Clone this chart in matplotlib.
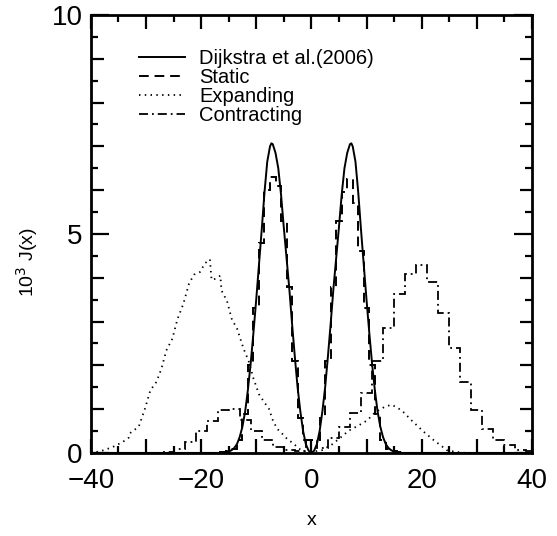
import numpy as np
import matplotlib
matplotlib.use('Agg')
from matplotlib import pyplot as plt
from matplotlib.ticker import MultipleLocator, FuncFormatter

plt.rcParams['font.family'] = ['Liberation Sans', 'DejaVu Sans']

# analytic curve (Dijkstra et al. 2006), x >= 0 side
x_sol = [0, 0.5, 1, 1.5, 2, 2.5, 3, 3.5, 4, 4.5, 5, 5.5, 6, 6.5, 7, 7.25, 7.5,
         8, 8.5, 9, 9.5, 10, 10.5, 11, 11.5, 12, 12.5, 13, 13.5, 14, 14.5, 15, 16, 40]
y_sol = [0, 0.05, 0.2, 0.5, 0.95, 1.5, 2.2, 2.95, 3.75, 4.45, 5.15, 5.9, 6.5, 6.85, 7.05, 7.07, 7.0,
         6.65, 5.95, 5.1, 4.3, 3.5, 2.75, 2.05, 1.45, 0.95, 0.6, 0.36, 0.2, 0.11, 0.06, 0.03, 0.0, 0.0]

# static slab, histogram with unit bins centred on integers
static_edges = np.arange(-16.5, 17.0, 1.0)
static_vals = [0.02, 0.05, 0.1, 0.3, 0.9, 2.0, 3.3, 4.8, 6.0, 6.3, 6.1, 5.3, 3.8, 2.1, 0.8, 0.3,
               0.3,
               0.3, 0.8, 2.1, 3.8, 5.3, 5.95, 6.25, 5.7, 4.6, 3.3, 2.0, 0.9, 0.3, 0.1, 0.05, 0.02]

# expanding cloud (dotted)
x_exp = [-40, -38.2, -36.1, -34.2, -33.1, -32.9, -31.3, -30.2, -29.2, -28.1, -27.2, -26.3, -25.2,
         -24.3, -23.2, -22.2, -21.3, -20.2, -19.3, -18.4, -18.1, -17.3, -16.5, -16.3, -15.3, -14.4,
         -13.5, -12.3, -11.4, -10.5, -9.5, -8.5, -7.7, -7.0, -6.2, -5.3, -4.4, -3.2, -2.3, -1.4, 0,
         1.9, 3.7, 5.0, 6.8, 8.6, 10.1, 11.6, 13.4, 14.6, 16.4, 18.2, 20.3, 22.2, 24.0, 24.6, 26.4,
         28, 40]
y_exp = [0.0, 0.04, 0.13, 0.25, 0.35, 0.45, 0.6, 1.0, 1.43, 1.62, 1.92, 2.34, 2.61,
         3.05, 3.41, 3.86, 4.07, 4.13, 4.33, 4.42, 3.95, 3.98, 4.05, 3.71, 3.47, 3.04,
         2.85, 2.38, 2.11, 1.7, 1.34, 1.15, 1.01, 0.75, 0.55, 0.44, 0.32, 0.21, 0.1, 0.04, 0.02,
         0.06, 0.19, 0.32, 0.51, 0.63, 0.74, 0.93, 1.06, 1.10, 0.97, 0.74, 0.49, 0.29, 0.12, 0.06, 0.02,
         0.0, 0.0]

# contracting cloud, histogram with bins of width 2 centred on even x
con_edges = np.arange(-29, 42, 2)
con_vals = [0.0, 0.03, 0.1, 0.25, 0.49, 0.74, 0.99, 1.0, 0.75, 0.5, 0.3, 0.13, 0.06, 0.04,
            0.3,
            0.12, 0.35, 0.59, 0.91, 1.37, 2.11, 2.86, 3.62, 4.09, 4.28, 3.90, 3.19, 2.39, 1.62,
            0.99, 0.55, 0.30, 0.17, 0.07, 0.05]

x_full = [-v for v in x_sol[::-1]] + x_sol[1:]
y_full = y_sol[::-1] + y_sol[1:]


def every(n):
    return FuncFormatter(lambda v, p: ('%d' % round(v)).replace('-', '\u2212') if round(v) % n == 0 else '')


fig = plt.figure(figsize=(5.57, 5.36), dpi=100)
ax = fig.add_axes([0.163, 0.155, 0.792, 0.817])

ax.plot(x_full, y_full, color='black', lw=1.4, label='Dijkstra et al.(2006)')
ax.stairs(static_vals, static_edges, color='black', lw=1.4, linestyle=(0, (5, 3)), label='Static')
ax.plot(x_exp, y_exp, color='black', lw=1.3, linestyle=(0, (0.8, 2.4)), label='Expanding')
ax.stairs(con_vals, con_edges, color='black', lw=1.3, linestyle=(0, (5, 2.2, 1, 2.2)), label='Contracting')

ax.set_xlim(-40, 40)
ax.set_ylim(0, 10)
ax.xaxis.set_major_locator(MultipleLocator(10))
ax.xaxis.set_minor_locator(MultipleLocator(5))
ax.yaxis.set_major_locator(MultipleLocator(1))
ax.yaxis.set_minor_locator(MultipleLocator(0.5))
ax.xaxis.set_major_formatter(every(20))
ax.yaxis.set_major_formatter(every(5))
ax.tick_params(which='both', direction='in', top=True, right=True, width=1.6, labelsize=20)
ax.tick_params(which='major', length=9)
ax.tick_params(which='minor', length=5)
ax.tick_params(axis='x', which='major', length=10, pad=11)
ax.tick_params(axis='y', which='major', pad=6)
for s in ax.spines.values():
    s.set_linewidth(2)

# longer ticks at 0, 5, 10 on the y axis
fig.canvas.draw()
for t in ax.yaxis.get_major_ticks():
    if round(t.get_loc()) % 5 == 0:
        t.tick1line.set_markersize(13)
        t.tick2line.set_markersize(13)

ax.set_xlabel('x', fontsize=14)
ax.xaxis.set_label_coords(0.5, -0.135)
ax.set_ylabel('10$^3$ J(x)', fontsize=14)
ax.yaxis.set_label_coords(-0.115, 0.435)

ax.legend(loc='upper left', bbox_to_anchor=(0.09, 0.94), frameon=False, fontsize=14.5,
          handlelength=2.3, handletextpad=0.7, labelspacing=0.0, borderaxespad=0)

fig.savefig('out.png', dpi=100)
